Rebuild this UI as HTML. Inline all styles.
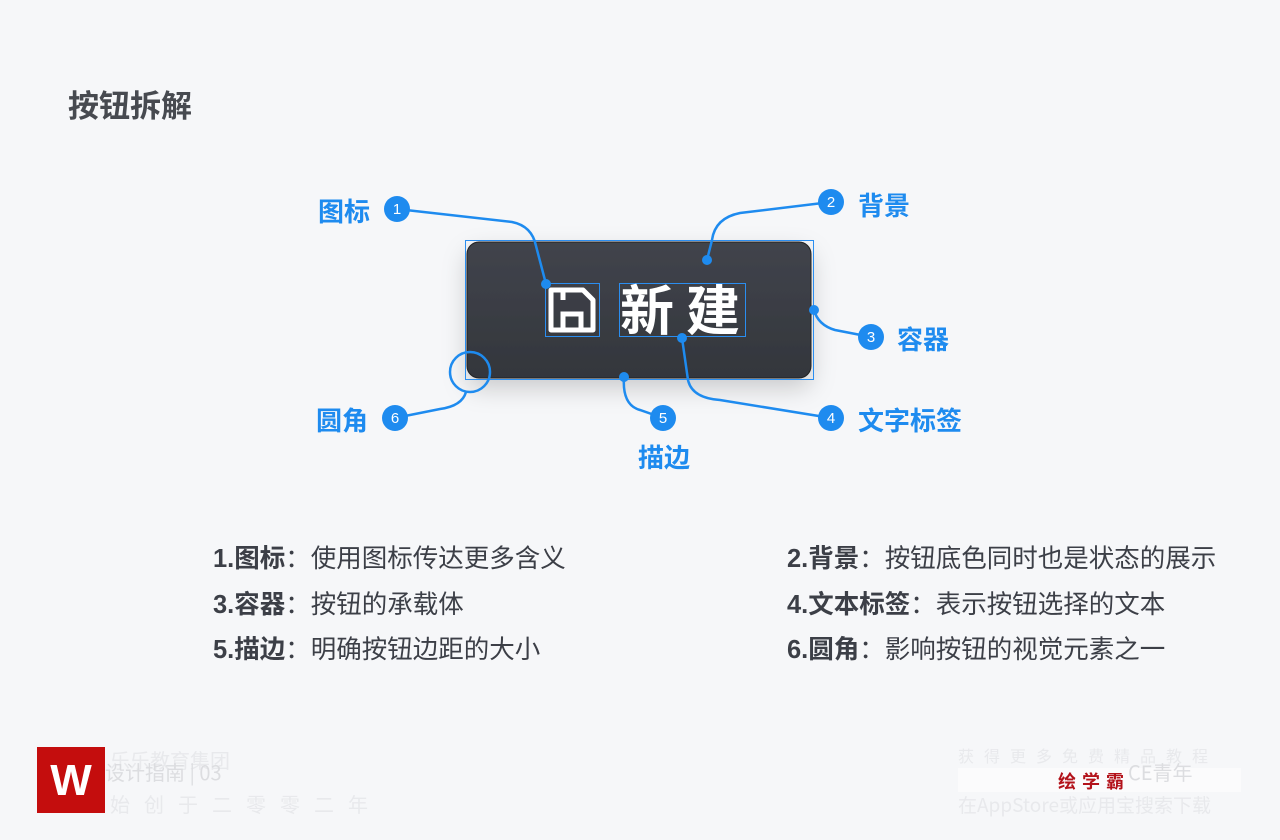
<!DOCTYPE html>
<html><head><meta charset="utf-8"><style>
body{margin:0;width:1280px;height:840px;background:#f6f7f9;overflow:hidden;position:relative;font-family:"Liberation Sans","Noto Sans CJK SC",sans-serif}
.t{position:absolute;white-space:nowrap}
.title{left:68px;top:81px;font-size:31px;font-weight:bold;color:#474a50}
.d{font-size:25.5px;color:#3c3f47}
.d b{font-weight:bold}
.lb{font-size:26px;font-weight:bold;color:#1e8bef}
svg{position:absolute;left:0;top:0}
</style></head><body>
<div class="t title">按钮拆解</div>
<svg width="1280" height="840">
<defs>
<linearGradient id="g" x1="0" y1="0" x2="0" y2="1"><stop offset="0" stop-color="#41444c"/><stop offset="1" stop-color="#33363c"/></linearGradient>
<filter id="s" x="-20%" y="-30%" width="140%" height="170%"><feDropShadow dx="0" dy="10" stdDeviation="12" flood-color="#000" flood-opacity="0.18"/></filter>
</defs>
<rect x="467" y="242" width="344" height="136" rx="12" fill="url(#g)" stroke="#222" stroke-width="1" filter="url(#s)"/>
<rect x="465.5" y="240.5" width="348" height="139" fill="none" stroke="#2b8ef0" stroke-width="1"/>
<rect x="545.5" y="283.5" width="54" height="53" fill="none" stroke="#2b8ef0" stroke-width="1"/>
<rect x="619.5" y="283.5" width="126" height="53" fill="none" stroke="#2b8ef0" stroke-width="1"/>
<path d="M551 290 h32 l10 10 v30 h-42 z" fill="none" stroke="#fff" stroke-width="5" stroke-linejoin="round"/>
<path d="M563 330 v-16 h18 v16" fill="none" stroke="#fff" stroke-width="5"/>
<path d="M563 290 v10" stroke="#fff" stroke-width="5"/>
<text x="620" y="330" font-size="54" font-weight="bold" fill="#fff" font-family="Noto Sans CJK SC, sans-serif" letter-spacing="12">新建</text>
<g fill="none" stroke="#1e8bef" stroke-width="2.5">
<path d="M397 209 L512 222 Q532 226 536 246 L546 284"/>
<path d="M831 202 L740 213 Q715 218 712 240 L707 260"/>
<path d="M814 310 Q818 325 835 330 L871 337"/>
<path d="M682 338 L688 380 Q692 398 720 400 L831 418"/>
<path d="M624 377 Q622 405 640 410 L663 418"/>
<circle cx="470" cy="372" r="20"/>
<path d="M466 392 Q462 406 440 409 L395 418"/>
</g>
<g fill="#1e8bef">
<circle cx="546" cy="284" r="5"/><circle cx="707" cy="260" r="5"/><circle cx="814" cy="310" r="5"/><circle cx="682" cy="338" r="5"/><circle cx="624" cy="377" r="5"/>
<circle cx="397" cy="209" r="13"/><circle cx="831" cy="202" r="13"/><circle cx="871" cy="337" r="13"/><circle cx="831" cy="418" r="13"/><circle cx="663" cy="418" r="13"/><circle cx="395" cy="418" r="13"/>
</g>
<g fill="#fff" font-size="15" text-anchor="middle" font-family="Liberation Sans, sans-serif">
<text x="397" y="214">1</text><text x="831" y="207">2</text><text x="871" y="342">3</text><text x="831" y="423">4</text><text x="663" y="423">5</text><text x="395" y="423">6</text>
</g>
<rect x="37" y="747" width="68" height="66" fill="#c40d0d"/>
<text x="71" y="795" font-size="44" font-weight="bold" fill="#fff" text-anchor="middle">W</text>
<rect x="958" y="768" width="283" height="24" fill="#fbfbfc"/>
<text x="1058" y="788" font-size="18" font-weight="bold" fill="#b3121a" letter-spacing="6" font-family="Noto Sans CJK SC, sans-serif">绘学霸</text>
<g fill="#e8e9ec" font-size="20" font-family="Noto Sans CJK SC, sans-serif">
<text x="110" y="768">乐乐教育集团</text><text x="105" y="780" fill="#dcdde0">设计指南 | 03</text><text x="110" y="812" letter-spacing="14">始创于二零零二年</text>
<text x="958" y="762" font-size="16" letter-spacing="10">获得更多免费精品教程</text>
<text x="958" y="812" font-size="19">在AppStore或应用宝搜索下载</text>
<text x="1128" y="780" fill="#dcdde0">CE青年</text>
</g>
</svg>
<div class="t lb" style="left:318px;top:192px">图标</div>
<div class="t lb" style="left:858px;top:186px">背景</div>
<div class="t lb" style="left:897px;top:320px">容器</div>
<div class="t lb" style="left:858px;top:401px">文字标签</div>
<div class="t lb" style="left:316px;top:401px">圆角</div>
<div class="t lb" style="left:638px;top:438px">描边</div>
<div class="t d" style="left:213px;top:538px"><b>1.图标</b>：使用图标传达更多含义</div>
<div class="t d" style="left:213px;top:584px"><b>3.容器</b>：按钮的承载体</div>
<div class="t d" style="left:213px;top:629px"><b>5.描边</b>：明确按钮边距的大小</div>
<div class="t d" style="left:787px;top:538px"><b>2.背景</b>：按钮底色同时也是状态的展示</div>
<div class="t d" style="left:787px;top:584px"><b>4.文本标签</b>：表示按钮选择的文本</div>
<div class="t d" style="left:787px;top:629px"><b>6.圆角</b>：影响按钮的视觉元素之一</div>
</body></html>
